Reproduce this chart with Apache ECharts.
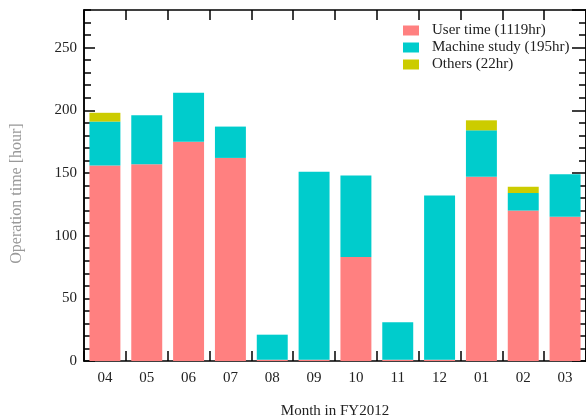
<!DOCTYPE html>
<html>
<head>
<meta charset="utf-8">
<script src="https://cdn.jsdelivr.net/npm/echarts@6/dist/echarts.min.js"></script>
<style>
html,body{margin:0;padding:0;background:#fff;}
#c{width:586px;height:419px;}
</style>
</head>
<body>
<div id="c"></div>
<script>
const months = ['04','05','06','07','08','09','10','11','12','01','02','03'];
const userTime = [156,157,175,162,1,1,83,1,1,147,120,115];
const machineStudy = [35,39,39,25,20,150,65,30,131,37,14,34];
const others = [7,0,0,0,0,0,0,0,0,8,5,0];
const seriesNames = ['User time (1119hr)','Machine study (195hr)','Others (22hr)'];
const colors = ['#FF8080','#00CCCC','#CCCC00'];

const FONT = 'Liberation Serif';
const chart = echarts.init(document.getElementById('c'), null, {renderer:'canvas'});

const yCommon = {
  type:'value', min:0, max:280,
  splitLine:{show:false},
  axisLine:{show:true, onZero:false, lineStyle:{color:'#000', width:1.5}}
};
const tick = (len) => ({show:true, inside:true, length:len, lineStyle:{color:'#000', width:1.5}});

chart.setOption({
  animation:false,
  textStyle:{fontFamily:FONT},
  color:colors,
  grid:{left:84, right:0, top:10, bottom:58, containLabel:false, outerBoundsMode:'none'},
  legend:{
    orient:'vertical', left:403, top:23, itemWidth:16, itemHeight:10, itemGap:2,
    padding:0, icon:'rect',
    textStyle:{fontFamily:FONT, fontSize:15, color:'#222', padding:[0,0,0,8]},
    data:seriesNames
  },
  xAxis:[
    {type:'category', data:months, position:'bottom',
     axisLine:{show:true, onZero:false, lineStyle:{color:'#000', width:1.5}},
     axisTick:tick(10),
     axisLabel:{fontFamily:FONT, fontSize:15, color:'#222', margin:10},
     name:'Month in FY2012', nameLocation:'middle', nameGap:43,
     nameTextStyle:{fontFamily:FONT, fontSize:15, color:'#222'}
    },
    {type:'category', data:months, position:'top',
     axisLine:{show:true, onZero:false, lineStyle:{color:'#000', width:1.5}},
     axisTick:tick(10),
     axisLabel:{show:false}
    }
  ],
  yAxis:[
    Object.assign({}, yCommon, {position:'left', interval:50,
      axisTick:tick(11),
      axisLabel:{fontFamily:FONT, fontSize:15, color:'#222', margin:7, showMaxLabel:false},
      name:'Operation time [hour]', nameLocation:'middle', nameGap:59,
      nameTextStyle:{fontFamily:FONT, fontSize:16, color:'#999', padding:[0,16,0,0]}
    }),
    Object.assign({}, yCommon, {position:'left', interval:10,
      axisTick:tick(7),
      axisLabel:{show:false}
    }),
    Object.assign({}, yCommon, {position:'right', interval:50,
      axisTick:tick(14),
      axisLabel:{show:false}
    }),
    Object.assign({}, yCommon, {position:'right', interval:10,
      axisTick:tick(7),
      axisLabel:{show:false}
    })
  ],
  series:[
    {name:seriesNames[0], type:'bar', stack:'t', data:userTime, barCategoryGap:'26%', itemStyle:{color:colors[0]}},
    {name:seriesNames[1], type:'bar', stack:'t', data:machineStudy, itemStyle:{color:colors[1]}},
    {name:seriesNames[2], type:'bar', stack:'t', data:others, itemStyle:{color:colors[2]}}
  ]
});
</script>
</body>
</html>
